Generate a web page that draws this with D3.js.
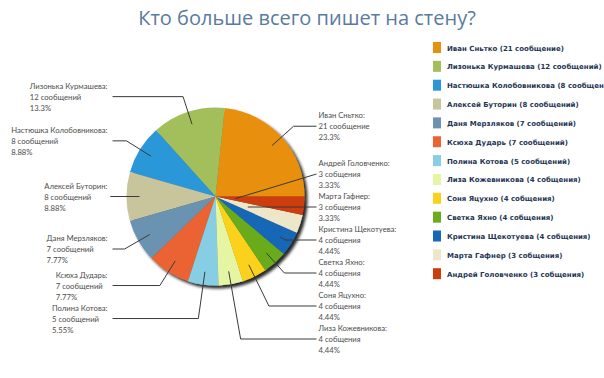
<!DOCTYPE html>
<meta charset="utf-8">
<style>
  body { margin: 0; background: #fff; }
  svg { display: block; }
</style>
<body></body>
<script src="https://cdn.jsdelivr.net/npm/d3@7"></script>
<script>
  const width = 604
  const height = 378

  const names = [
    "Иван Сньтко", "Лизонька Курмашева", "Настюшка Колобовникова", "Алексей Буторин",
    "Даня Мерзляков", "Ксюха Дударь", "Полина Котова", "Лиза Кожевникова",
    "Соня Яцухно", "Светка Яхно", "Кристина Щекотуева", "Марта Гафнер", "Андрей Головченко"
  ]
  const counts = [21, 12, 8, 8, 7, 7, 5, 4, 4, 4, 4, 3, 3]
  const countLabels = [
    "21 сообщение", "12 сообщений", "8 сообщений", "8 сообщений", "7 сообщений",
    "7 сообщений", "5 сообщений", "4 собщения", "4 собщения", "4 собщения",
    "4 собщения", "3 собщения", "3 собщения"
  ]
  const colors = [
    "#e8900e", "#a3bf5b", "#2a97d8", "#c8c49b", "#6b93b1", "#eb6330", "#87cde4",
    "#e6f5a4", "#fcd11a", "#6bab1c", "#1667b7", "#eee6c9", "#cd3c0b"
  ]

  const total = d3.sum(counts)
  // truncated to 3 significant digits, like the original (8.88%, 23.3%)
  const pct = v => {
    const p = v / total * 100
    const d = p >= 10 ? 10 : 100
    return (Math.floor(p * d) / d).toFixed(d === 10 ? 1 : 2) + "%"
  }

  const data = names.map((name, i) => ({
    name, value: counts[i], label: countLabels[i], color: colors[i]
  }))

  const cx = 215.5, cy = 196.5, radius = 89
  const anchorR = 76, idealR = 105, gap = 33, bottomLimit = 339

  const svg = d3.select("body").append("svg")
    .attr("width", width)
    .attr("height", height)
    .style("font-family", "Lato, 'Open Sans', sans-serif")

  const defs = svg.append("defs")
  const shadow = defs.append("filter").attr("id", "shadow")
    .attr("x", "-20%").attr("y", "-20%").attr("width", "140%").attr("height", "140%")
  shadow.append("feDropShadow")
    .attr("dx", 3).attr("dy", 3).attr("stdDeviation", 1.6)
    .attr("flood-color", "#000").attr("flood-opacity", 0.85)

  // title
  svg.append("text")
    .attr("x", 307)
    .attr("y", 25)
    .attr("text-anchor", "middle")
    .attr("fill", "#5a7b9c")
    .style("font-family", "'Open Sans', sans-serif")
    .style("font-size", "20px")
    .text("Кто больше всего пишет на стену?")

  // pie goes counter-clockwise from 3 o'clock
  const pie = d3.pie().value(d => d.value).sort(null)
    .startAngle(Math.PI / 2).endAngle(Math.PI / 2 - 2 * Math.PI)
  const arcs = pie(data)
  const arc = d3.arc().innerRadius(0).outerRadius(radius)

  const g = svg.append("g").attr("transform", `translate(${cx},${cy})`)

  g.append("g").attr("filter", "url(#shadow)")
    .selectAll("path")
    .data(arcs)
    .join("path")
    .attr("d", arc)
    .attr("fill", d => d.data.color)

  // label positions
  arcs.forEach(d => {
    d.mid = (d.startAngle + d.endAngle) / 2
    d.right = Math.sin(d.mid) >= 0
    d.ly = -Math.cos(d.mid) * idealR
  })

  function spread(items) {
    items.sort((a, b) => a.ly - b.ly)
    for (let i = 1; i < items.length; i++) {
      items[i].ly = Math.max(items[i].ly, items[i - 1].ly + gap)
    }
    const maxY = bottomLimit - cy
    for (let i = items.length - 1; i >= 0; i--) {
      const lim = i === items.length - 1 ? maxY : items[i + 1].ly - gap
      items[i].ly = Math.min(items[i].ly, lim)
    }
  }
  spread(arcs.filter(d => d.right))
  spread(arcs.filter(d => !d.right))

  const leftX = -103, rightX = 101

  const lines = g.append("g")
  const labels = g.append("g")

  arcs.forEach(d => {
    const sx = Math.sin(d.mid), sy = -Math.cos(d.mid)
    // radius where the slice's ray crosses the label line
    const rc = sy !== 0 ? d.ly / sy : -1
    const ra = Math.min(anchorR, Math.max(20, rc))
    const pts = [[sx * ra, sy * ra]]
    if (rc > anchorR) pts.push([sx * rc, d.ly])
    pts.push([d.right ? rightX : leftX, d.ly])

    lines.append("path")
      .attr("d", d3.line()(pts))
      .attr("fill", "none")
      .attr("stroke", "#3a3a3a")
      .attr("stroke-width", 1)

    const t = labels.append("text")
      .attr("fill", "#4d4d4d")
      .style("font-size", "7.7px")
    const rows = [d.data.name + ":", d.data.label, pct(d.data.value)]
    rows.forEach((r, i) => {
      t.append("tspan")
        .attr("y", d.ly + 3 + (i - 1) * 11)
        .text(r)
    })
    const w = d3.max(t.selectAll("tspan").nodes(), n => n.getComputedTextLength())
    const x = d.right ? rightX + 2 : leftX - 5 - w
    t.selectAll("tspan").attr("x", x)
  })

  // legend
  const legend = svg.append("g").attr("transform", "translate(433,42)")
  const item = legend.selectAll("g")
    .data(data)
    .join("g")
    .attr("transform", (d, i) => `translate(0,${i * 18.85})`)
  item.append("rect")
    .attr("width", 8)
    .attr("height", 11)
    .attr("fill", d => d.color)
  item.append("text")
    .attr("x", 14)
    .attr("y", 8.5)
    .attr("fill", "#1f3654")
    .style("font-family", "'DejaVu Sans', Verdana, sans-serif")
    .style("font-weight", "bold")
    .style("font-size", "7px")
    .text(d => `${d.name} (${d.label})`)
</script>
